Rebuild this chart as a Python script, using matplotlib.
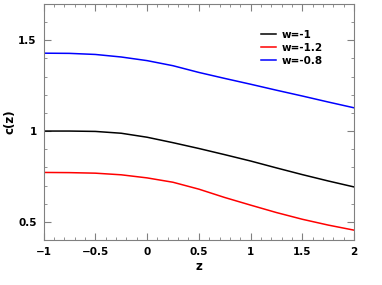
import matplotlib
matplotlib.use('Agg')
import matplotlib.pyplot as plt
from matplotlib.ticker import MultipleLocator

# redshift grid and c(z)
z = [-1, -0.75, -0.5, -0.25, 0, 0.25, 0.5, 0.75, 1, 1.25, 1.5, 1.75, 2]
c_w1 = [1.000, 1.000, 0.998, 0.988, 0.966, 0.936, 0.904, 0.870, 0.835, 0.797, 0.760, 0.725, 0.692]
c_w12 = [0.772, 0.771, 0.768, 0.759, 0.742, 0.718, 0.680, 0.634, 0.592, 0.551, 0.514, 0.482, 0.454]
c_w08 = [1.429, 1.428, 1.422, 1.408, 1.388, 1.360, 1.323, 1.290, 1.258, 1.225, 1.193, 1.160, 1.128]

plt.rcParams['font.weight'] = 'bold'
fig = plt.figure(figsize=(3.82, 2.85), dpi=100)
ax = fig.add_axes([0.114, 0.158, 0.813, 0.828])

ax.plot(z, c_w1, color='black', lw=1.1, label='w=-1')
ax.plot(z, c_w12, color='red', lw=1.1, label='w=-1.2')
ax.plot(z, c_w08, color='blue', lw=1.1, label='w=-0.8')

ax.set_xlim(-1, 2)
ax.set_ylim(0.4, 1.7)
ax.set_xticks([-1, -0.5, 0, 0.5, 1, 1.5, 2])
ax.set_xticklabels(['\u22121', '\u22120.5', '0', '0.5', '1', '1.5', '2'])
ax.set_yticks([0.5, 1, 1.5])
ax.set_yticklabels(['0.5', '1', '1.5'])
ax.xaxis.set_minor_locator(MultipleLocator(0.1))
ax.yaxis.set_minor_locator(MultipleLocator(0.1))
ax.tick_params(which='both', direction='in', top=True, right=True, color='gray',
               labelsize=7.5, pad=5)
ax.tick_params(which='major', length=5)
ax.tick_params(which='minor', length=2.5)
for s in ax.spines.values():
    s.set_color('gray')

ax.set_xlabel('z', fontsize=8.5, fontweight='bold', labelpad=2)
ax.set_ylabel('c(z)', fontsize=8.5, fontweight='bold', labelpad=1)

ax.legend(loc='upper right', bbox_to_anchor=(0.93, 0.93), frameon=False,
          fontsize=7.5, handlelength=1.4, handletextpad=0.6, labelspacing=0.3)

fig.savefig('out.png', dpi=100)
